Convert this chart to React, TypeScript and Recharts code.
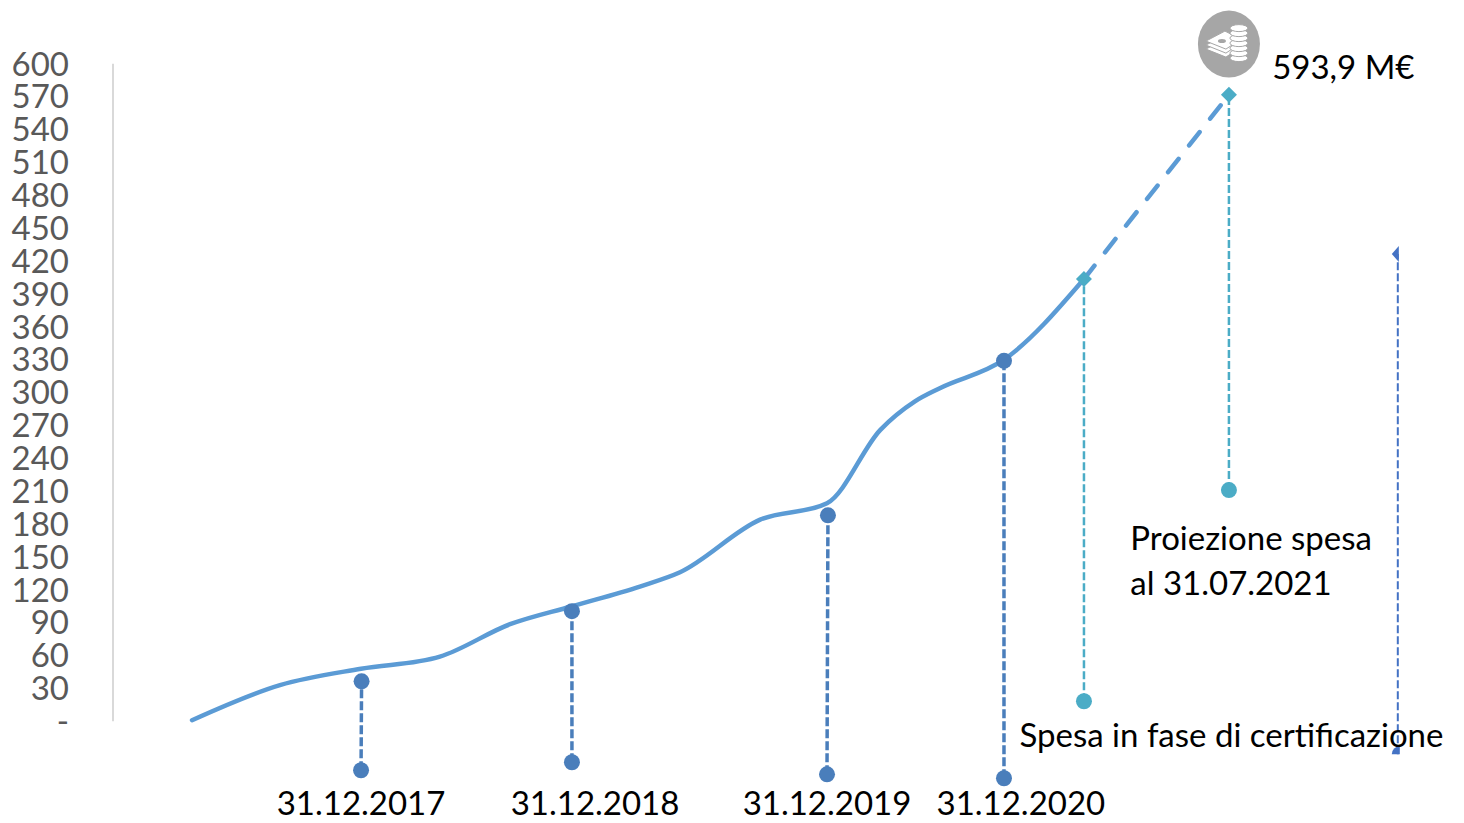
import { ComposedChart, Line, XAxis, YAxis, ReferenceLine, ReferenceDot } from 'recharts';

// x is a 0-100 position along the horizontal axis, y is in M€
const spendCurve = [
  { x: 5.85, y: 1 },
  { x: 12.36, y: 33 },
  { x: 18.36, y: 48 },
  { x: 24.2, y: 59 },
  { x: 29.39, y: 88.6 },
  { x: 33.97, y: 105 },
  { x: 39.0, y: 123 },
  { x: 41.97, y: 136 },
  { x: 47.9, y: 184 },
  { x: 52.85, y: 199 },
  { x: 56.8, y: 266 },
  { x: 59.36, y: 292 },
  { x: 61.2, y: 304 },
  { x: 65.95, y: 330 },
  { x: 71.87, y: 403.6 },
];
const projection = [
  { x: 71.87, y: 403.6 },
  { x: 82.6, y: 571.7 },
];

const dropLines = [
  [{ x: 18.36, y: -44.7 }, { x: 18.4, y: 36.5 }],
  [{ x: 33.97, y: -37.4 }, { x: 33.97, y: 100.5 }],
  [{ x: 52.85, y: -48.4 }, { x: 52.92, y: 188 }],
  [{ x: 65.95, y: -52 }, { x: 65.95, y: 329 }],
];
const tealLines = [
  [{ x: 71.87, y: 18.3 }, { x: 71.87, y: 403.6 }],
  [{ x: 82.6, y: 211 }, { x: 82.6, y: 571.7 }],
];
const certLine = [
  { x: 95.1, y: -30 },
  { x: 95.1, y: 426.5 },
];

const yTicks = [0, 30, 60, 90, 120, 150, 180, 210, 240, 270, 300, 330, 360, 390, 420, 450, 480, 510, 540, 570, 600];
const dateTicks = [18.36, 35.68, 52.85, 67.2];
const dateLabels = ['31.12.2017', '31.12.2018', '31.12.2019', '31.12.2020'];

const notes = [
  { x: 85.8, y: 597, text: '593,9 M€' },
  { x: 75.3, y: 166.5, text: 'Proiezione spesa' },
  { x: 75.3, y: 125.5, text: 'al 31.07.2021' },
  { x: 67.1, y: -12.8, text: 'Spesa in fase di certificazione' },
];
const iconPoint = { x: 82.6, y: 618 };

const FONT = 'Lato, "Open Sans", sans-serif';

const Dot = ({ cx, cy, fill }: any) => <circle cx={cx} cy={cy} r={8} fill={fill} />;

// bottom point: circle end, top point: diamond (teal) or plain circle (blue)
const tealDot = (props: any) => {
  const { cx, cy, index } = props;
  if (index === 0) return <Dot key={index} cx={cx} cy={cy} fill="#4bacc6" />;
  return <path key={index} d={`M${cx - 8} ${cy}L${cx} ${cy - 8}L${cx + 8} ${cy}L${cx} ${cy + 8}Z`} fill="#4bacc6" />;
};
const blueDot = (props: any) => <Dot key={props.index} cx={props.cx} cy={props.cy} fill="#4a7ebb" />;

// the last pair of markers is cut by the picture's edge in the original
const certDot = (props: any) => {
  const { cx, cy, index } = props;
  if (index === 0) return <path key={index} d={`M${cx + 2} ${cy}L${cx + 2} ${cy - 8}A8 8 0 0 0 ${cx - 6} ${cy}Z`} fill="#4472c4" />;
  return <path key={index} d={`M${cx + 1} ${cy - 8}L${cx - 6} ${cy}L${cx + 1} ${cy + 8}Z`} fill="#4472c4" />;
};

const NoteShape = ({ cx, cy, text }: any) => (
  <text x={cx} y={cy} dy="0.35em" fontFamily={FONT} fontSize={33} fill="#000">
    {text}
  </text>
);

const MoneyIcon = ({ cx, cy }: any) => (
  <g>
    <ellipse cx={cx} cy={cy} rx={31} ry={33.5} fill="#a6a6a6" />
    <g fill="#fff" stroke="#a6a6a6" strokeWidth={1}>
      <path d={`M${cx - 23} ${cy + 5}L${cx - 4} ${cy - 5}L${cx + 12} ${cy + 3}L${cx - 3} ${cy + 13}Z`} />
      <path d={`M${cx - 23} ${cy + 1}L${cx - 4} ${cy - 9}L${cx + 12} ${cy - 1}L${cx - 3} ${cy + 9}Z`} />
      <path d={`M${cx - 23} ${cy - 3}L${cx - 4} ${cy - 13}L${cx + 12} ${cy - 5}L${cx - 3} ${cy + 5}Z`} />
      {[14, 9, 4, -1, -6, -11, -16].map((d) => (
        <ellipse key={d} cx={cx + 10} cy={cy + d} rx={9} ry={3.5} />
      ))}
    </g>
    <ellipse cx={cx - 7} cy={cy - 3} rx={4} ry={2} fill="#a6a6a6" />
  </g>
);

export default function App() {
  return (
    <div style={{ position: 'absolute', left: 0, top: 0, width: 1464, height: 823, background: '#fff' }}>
      <ComposedChart width={1464} height={823} margin={{ top: 20, right: 0, bottom: 0, left: 0 }}>
        <XAxis
          type="number"
          dataKey="x"
          domain={[0, 100]}
          ticks={dateTicks}
          tickFormatter={(v) => dateLabels[dateTicks.indexOf(v)]}
          interval={0}
          height={25}
          axisLine={false}
          tickLine={false}
          tickSize={0}
          tickMargin={-6}
          tick={{ fontFamily: FONT, fontSize: 33, fill: '#000' }}
        />
        <YAxis
          type="number"
          domain={[-70, 640]}
          ticks={yTicks}
          tickFormatter={(v) => (v === 0 ? '-' : String(v))}
          interval={0}
          width={113}
          axisLine={false}
          tickLine={false}
          tickSize={0}
          tickMargin={44}
          tick={{ fontFamily: FONT, fontSize: 33, fill: '#595959' }}
        />
        <ReferenceLine
          segment={[{ x: 0, y: 0 }, { x: 0, y: 600 }]}
          stroke="#d9d9d9"
          strokeWidth={2}
        />
        {dropLines.map((d, i) => (
          <Line
            key={i}
            data={d}
            dataKey="y"
            type="linear"
            stroke="#4a7ebb"
            strokeWidth={3.5}
            strokeDasharray="9 3"
            dot={blueDot}
            activeDot={false}
            isAnimationActive={false}
          />
        ))}
        {tealLines.map((d, i) => (
          <Line
            key={i}
            data={d}
            dataKey="y"
            type="linear"
            stroke="#4bacc6"
            strokeWidth={2.5}
            strokeDasharray="8 3"
            dot={tealDot}
            activeDot={false}
            isAnimationActive={false}
          />
        ))}
        <Line
          data={certLine}
          dataKey="y"
          type="linear"
          stroke="#4472c4"
          strokeWidth={2}
          strokeDasharray="8 3"
          dot={certDot}
          activeDot={false}
          isAnimationActive={false}
        />
        <Line
          data={spendCurve}
          dataKey="y"
          type="monotone"
          stroke="#5b9bd5"
          strokeWidth={4.5}
          strokeLinecap="round"
          dot={false}
          activeDot={false}
          isAnimationActive={false}
        />
        <Line
          data={projection}
          dataKey="y"
          type="linear"
          stroke="#5b9bd5"
          strokeWidth={4.5}
          strokeLinecap="round"
          strokeDasharray="17 17"
          dot={false}
          activeDot={false}
          isAnimationActive={false}
        />
        <ReferenceDot x={iconPoint.x} y={iconPoint.y} shape={(p: any) => <MoneyIcon cx={p.cx} cy={p.cy} />} />
        {notes.map((n) => (
          <ReferenceDot
            key={n.text}
            x={n.x}
            y={n.y}
            shape={(p: any) => <NoteShape cx={p.cx} cy={p.cy} text={n.text} />}
          />
        ))}
      </ComposedChart>
    </div>
  );
}
